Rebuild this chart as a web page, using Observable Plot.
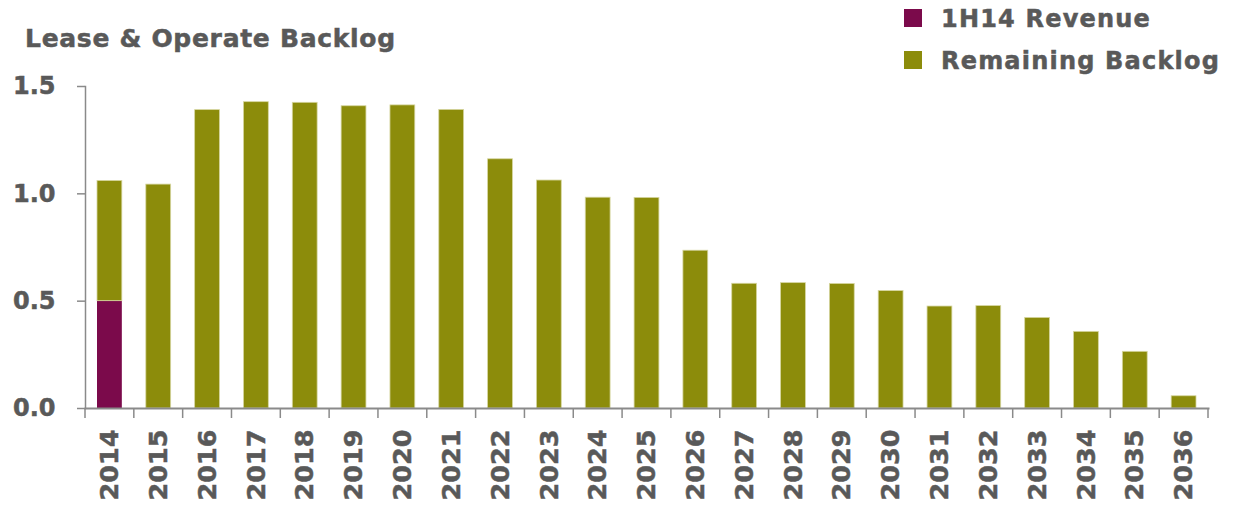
<!DOCTYPE html>
<html>
<head>
<meta charset="utf-8">
<script src="https://cdn.jsdelivr.net/npm/d3@7"></script>
<script src="https://cdn.jsdelivr.net/npm/@observablehq/plot@0.6"></script>
<style>
  html, body { margin: 0; padding: 0; background: #fff; }
  #wrap { position: relative; width: 1240px; height: 505px; font-family: "DejaVu Sans", sans-serif; font-weight: bold; color: #595959; }
  #title { position: absolute; left: 25px; top: 26px; font-size: 25px; line-height: 1; letter-spacing: 0.7px; white-space: nowrap; -webkit-text-stroke: 0.5px #595959; }
  .leg { position: absolute; left: 904px; font-size: 24px; line-height: 1; white-space: nowrap; letter-spacing: 1.2px; -webkit-text-stroke: 0.5px #595959; }
  .leg .sw { position: absolute; left: 0; width: 18px; height: 18px; }
  .leg .lbl { position: absolute; left: 37px; }
  svg { position: absolute; left: 0; top: 0; }
  svg text { stroke: #595959; stroke-width: 0.5px; paint-order: stroke; }
</style>
</head>
<body>
<div id="wrap">
  <div id="title">Lease &amp; Operate Backlog</div>
</div>
<script>
const years = ["2014","2015","2016","2017","2018","2019","2020","2021","2022","2023","2024","2025","2026","2027","2028","2029","2030","2031","2032","2033","2034","2035","2036"];
const revenue1H14 = [0.50, 0, 0, 0, 0, 0, 0, 0, 0, 0, 0, 0, 0, 0, 0, 0, 0, 0, 0, 0, 0, 0, 0];
const remainingBacklog = [0.56, 1.043, 1.39, 1.427, 1.424, 1.408, 1.412, 1.391, 1.161, 1.062, 0.982, 0.981, 0.735, 0.581, 0.584, 0.580, 0.547, 0.475, 0.477, 0.422, 0.357, 0.264, 0.057];
const seriesNames = ["1H14 Revenue", "Remaining Backlog"];
const seriesColors = ["#7B0A4B", "#8C8C0B"];
const yTicks = [0, 0.5, 1.0, 1.5];

const rows = [];
years.forEach((y, i) => {
  if (revenue1H14[i] > 0) rows.push({year: y, series: seriesNames[0], value: revenue1H14[i]});
  rows.push({year: y, series: seriesNames[1], value: remainingBacklog[i]});
});

const axisGray = "#8a8a8a";
const textGray = "#595959";
const W = 1240, H = 505, mL = 85, mR = 32, mT = 86, mB = 97;

const chart = Plot.plot({
  width: W,
  height: H,
  marginLeft: mL,
  marginRight: mR,
  marginTop: mT,
  marginBottom: mB,
  style: {fontFamily: "DejaVu Sans, sans-serif", fontWeight: "bold", background: "transparent"},
  x: {domain: years, padding: 0, range: [mL, W - mR], round: false, label: null, axis: null},
  y: {domain: [0, 1.5], label: null, axis: null},
  color: {domain: seriesNames, range: seriesColors},
  marks: [
    Plot.barY(rows, Plot.stackY({
      x: "year", y: "value", fill: "series", order: seriesNames,
      insetLeft: 12, insetRight: 12,
      stroke: d => d.series === seriesNames[1] ? "#d6d6a0" : "none",
      strokeWidth: 0.8
    })),
    Plot.axisY({ticks: yTicks, tickFormat: d3.format(".1f"), tickSize: 8, tickPadding: 22, label: null,
      stroke: axisGray, fill: textGray, fontSize: 24, strokeWidth: 1.5, strokeOpacity: 1}),
    Plot.axisX({tickSize: 0, tickPadding: 21, tickRotate: -90, label: null, fill: textGray, fontSize: 25.5}),
    Plot.frame({anchor: "left", stroke: axisGray, strokeWidth: 1.5}),
    Plot.frame({anchor: "bottom", stroke: axisGray, strokeWidth: 2})
  ]
});

// boundary ticks on x axis, derived from the band scale
const xs = chart.scale("x");
const ys = chart.scale("y");
const y0 = ys.apply(0);
const edges = years.map(y => xs.apply(y));
edges.push(xs.apply(years[years.length - 1]) + xs.bandwidth);
d3.select(chart).append("g").selectAll("line").data(edges).join("line")
  .attr("x1", d => d).attr("x2", d => d)
  .attr("y1", y0).attr("y2", y0 + 10)
  .attr("stroke", axisGray).attr("stroke-width", 1.5);

document.getElementById("wrap").appendChild(chart);

// legend
const wrap = d3.select("#wrap");
seriesNames.forEach((name, i) => {
  const g = wrap.append("div").attr("class", "leg").style("top", (7 + i * 42) + "px");
  g.append("div").attr("class", "sw").style("background", seriesColors[i]).style("top", "2px");
  g.append("div").attr("class", "lbl").text(name);
});
</script>
</body>
</html>
